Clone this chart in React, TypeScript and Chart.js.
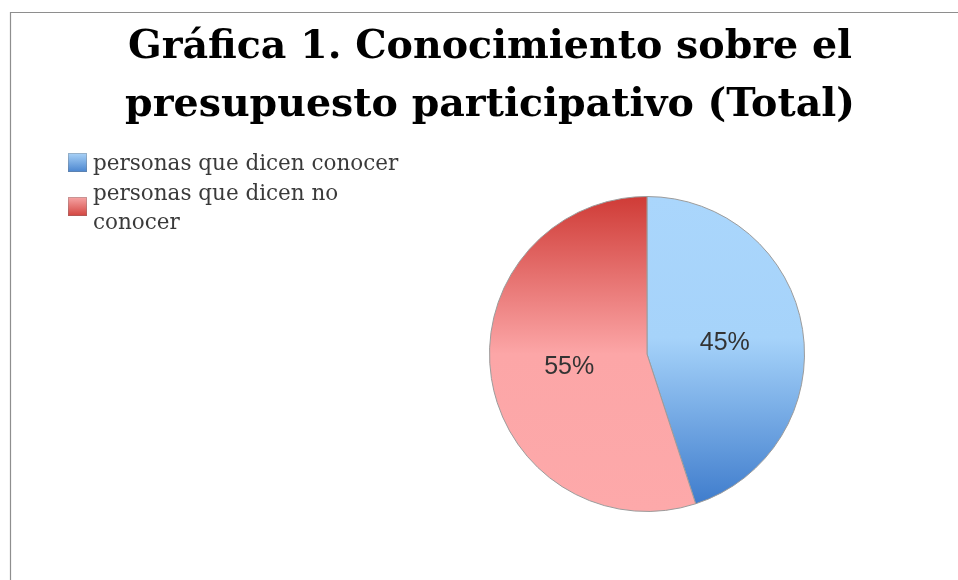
import React, { useEffect, useRef } from "react";
import { Chart, registerables } from "chart.js";

Chart.register(...registerables);

// ---- data ----
const titleLines: string[] = ["Gráfica 1. Conocimiento sobre el", "presupuesto participativo (Total)"];
const categories: string[] = ["personas que dicen conocer", "personas que dicen no conocer"];
const legendLines: string[][] = [["personas que dicen conocer"], ["personas que dicen no", "conocer"]];
const values: number[] = [45, 55];

// ---- styles ----
const sliceGradients: [number, string][][] = [
  [[0, "#AAD6FC"], [0.45, "#A6D3FA"], [1, "#3A78CA"]],
  [[0, "#CF3B36"], [0.5, "#FCA6A7"], [1, "#FDA9AA"]],
];
const legendGradients: [number, string][][] = [
  [[0, "#A9D2F7"], [1, "#4A85CF"]],
  [[0, "#F6A5A5"], [1, "#D3443F"]],
];

const decorPlugin = {
  id: "decor",
  beforeDraw(chart: any) {
    const ctx: CanvasRenderingContext2D = chart.ctx;
    ctx.save();
    ctx.fillStyle = "#ffffff";
    ctx.fillRect(0, 0, chart.width, chart.height);
    // frame
    ctx.strokeStyle = "#8e8e8e";
    ctx.lineWidth = 1.2;
    ctx.beginPath();
    ctx.moveTo(10.5, chart.height + 2);
    ctx.lineTo(10.5, 12.5);
    ctx.lineTo(chart.width + 2, 12.5);
    ctx.stroke();
    // title
    ctx.fillStyle = "#000000";
    ctx.font = 'bold 39.5px "DejaVu Serif", serif';
    ctx.textAlign = "center";
    ctx.textBaseline = "alphabetic";
    titleLines.forEach((l, i) => ctx.fillText(l, 490, 58 + i * 58));
    // legend
    ctx.textAlign = "left";
    ctx.font = '21.5px "DejaVu Serif", serif';
    let baseline = 170;
    const lh = 29;
    legendLines.forEach((lines, i) => {
      const first = baseline;
      const last = baseline + (lines.length - 1) * lh;
      const center = (first + last) / 2 - 8;
      const sq = 19;
      const top = Math.round(center - sq / 2);
      const g = ctx.createLinearGradient(0, top, 0, top + sq);
      legendGradients[i].forEach(([o, c]) => g.addColorStop(o, c));
      ctx.fillStyle = g;
      ctx.fillRect(68, top, sq, sq);
      ctx.strokeStyle = "rgba(120,120,120,0.35)";
      ctx.lineWidth = 1;
      ctx.strokeRect(68.5, top + 0.5, sq - 1, sq - 1);
      ctx.fillStyle = "#3a3a3a";
      lines.forEach((t, j) => ctx.fillText(t, 93, baseline + j * lh));
      baseline = last + lh + 1;
    });
    ctx.restore();
  },
  afterDatasetsDraw(chart: any) {
    const ctx: CanvasRenderingContext2D = chart.ctx;
    const meta = chart.getDatasetMeta(0);
    const data: number[] = chart.data.datasets[0].data;
    const total = data.reduce((a, b) => a + b, 0);
    ctx.save();
    ctx.font = '25px "Liberation Sans", sans-serif';
    ctx.fillStyle = "#333333";
    ctx.textAlign = "center";
    ctx.textBaseline = "middle";
    meta.data.forEach((arc: any, i: number) => {
      const p = arc.getCenterPoint();
      const pct = Math.round((data[i] / total) * 100) + "%";
      ctx.fillText(pct, p.x, p.y + 1);
    });
    ctx.restore();
  },
};

export default function App() {
  const ref = useRef<HTMLCanvasElement | null>(null);
  useEffect(() => {
    if (!ref.current) return;
    const chart = new Chart(ref.current, {
      type: "pie",
      data: {
        labels: categories,
        datasets: [
          {
            data: values,
            backgroundColor: (c: any) => {
              const area = c.chart.chartArea;
              if (!area) return "#ccc";
              const g = c.chart.ctx.createLinearGradient(0, area.top, 0, area.bottom);
              sliceGradients[c.dataIndex % sliceGradients.length].forEach(([o, col]) => g.addColorStop(o, col));
              return g;
            },
            borderColor: "#9c9c9c",
            borderWidth: 1,
          },
        ],
      },
      options: {
        responsive: false,
        animation: false,
        devicePixelRatio: 1,
        layout: { padding: { left: 489, top: 196, right: 153, bottom: 68 } },
        plugins: {
          legend: { display: false },
          title: { display: false },
          tooltip: { enabled: false },
        },
      },
      plugins: [decorPlugin],
    } as any);
    return () => chart.destroy();
  }, []);
  return (
    <div style={{ position: "absolute", left: 0, top: 0, width: 958, height: 580 }}>
      <canvas ref={ref} width={958} height={580} style={{ display: "block" }} />
    </div>
  );
}
